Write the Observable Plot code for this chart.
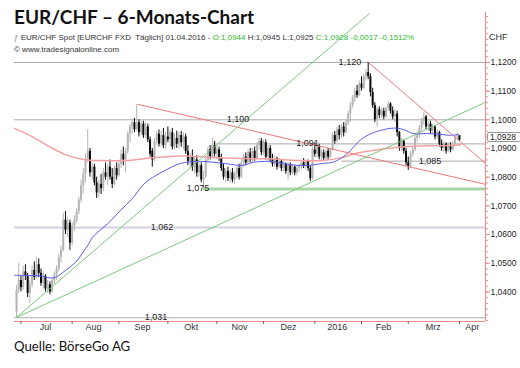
<!DOCTYPE html>
<html><head><meta charset="utf-8">
<script src="https://cdn.jsdelivr.net/npm/d3@7"></script>
<script src="https://cdn.jsdelivr.net/npm/@observablehq/plot@0.6"></script>
<style>
body{margin:0;background:#fff;}
#wrap{position:relative;width:520px;height:368px;overflow:hidden;font-family:"Liberation Sans",Arial,sans-serif;background:#fff;}
#wrap svg{position:absolute;left:0;top:0;}
.ov{position:absolute;white-space:nowrap;line-height:1;}
</style></head><body><div id="wrap"></div>
<script>
// ---- daily OHLC, EUR/CHF, 29.06.2015 – 01.04.2016 (trading-day index) ----
const open=[1.0330,1.0405,1.0440,1.0415,1.0470,1.0455,1.0395,1.0425,1.0475,1.0450,
1.0495,1.0465,1.0430,1.0455,1.0410,1.0425,1.0400,1.0440,1.0460,1.0480,
1.0520,1.0545,1.0650,1.0615,1.0640,1.0570,1.0630,1.0650,1.0680,1.0720,
1.0770,1.0810,1.0860,1.0890,1.0815,1.0835,1.0780,1.0745,1.0775,1.0760,
1.0815,1.0800,1.0835,1.0800,1.0775,1.0830,1.0805,1.0845,1.0880,1.0860,
1.0890,1.0950,1.0975,1.0990,1.0965,1.0990,1.0955,1.0985,1.0945,1.0975,
1.0930,1.0890,1.0860,1.0925,1.0950,1.0915,1.0945,1.0910,1.0940,1.0930,
1.0955,1.0905,1.0935,1.0915,1.0945,1.0920,1.0940,1.0890,1.0855,1.0870,
1.0835,1.0860,1.0815,1.0840,1.0790,1.0800,1.0860,1.0895,1.0870,1.0910,
1.0880,1.0895,1.0865,1.0830,1.0800,1.0820,1.0795,1.0815,1.0790,1.0810,
1.0830,1.0800,1.0850,1.0870,1.0850,1.0885,1.0860,1.0890,1.0865,1.0910,
1.0925,1.0885,1.0920,1.0870,1.0900,1.0860,1.0845,1.0865,1.0835,1.0855,
1.0830,1.0845,1.0820,1.0840,1.0815,1.0835,1.0815,1.0830,1.0840,1.0850,
1.0840,1.0855,1.0830,1.0795,1.0895,1.0880,1.0905,1.0870,1.0885,1.0865,
1.0890,1.0870,1.0895,1.0945,1.0925,1.0965,1.0945,1.0975,1.0955,1.0990,
1.1020,1.1050,1.1075,1.1100,1.1085,1.1125,1.1110,1.1150,1.1165,1.1150,
1.1095,1.1050,1.1000,1.1035,1.1015,1.1030,1.1010,1.1040,1.1055,1.1030,
1.1010,1.1020,1.0955,1.0900,1.0925,1.0890,1.0850,1.0835,1.0880,1.0895,
1.0935,1.0950,1.0970,1.0995,1.1010,1.0975,1.0985,1.0960,1.0975,1.0940,
1.0955,1.0915,1.0900,1.0915,1.0890,1.0910,1.0895,1.0915,1.0940,1.0944];
const high=[1.0423,1.0500,1.0455,1.0490,1.0495,1.0465,1.0440,1.0490,1.0505,1.0520,
1.0515,1.0480,1.0470,1.0460,1.0440,1.0435,1.0450,1.0470,1.0490,1.0530,
1.0560,1.0675,1.0680,1.0660,1.0650,1.0640,1.0665,1.0690,1.0730,1.0790,
1.0830,1.0880,1.0966,1.0900,1.0850,1.0845,1.0800,1.0790,1.0810,1.0830,
1.0850,1.0845,1.0860,1.0830,1.0840,1.0850,1.0860,1.0895,1.0905,1.0900,
1.0960,1.0985,1.1000,1.1005,1.1053,1.1000,1.0995,1.0995,1.0990,1.0985,
1.0940,1.0900,1.0935,1.0960,1.0965,1.0960,1.0970,1.0955,1.0975,1.0965,
1.0970,1.0950,1.0960,1.0955,1.0960,1.0955,1.0950,1.0910,1.0885,1.0895,
1.0870,1.0875,1.0850,1.0850,1.0820,1.0870,1.0905,1.0910,1.0935,1.0925,
1.0910,1.0905,1.0880,1.0845,1.0830,1.0835,1.0825,1.0830,1.0820,1.0840,
1.0845,1.0860,1.0880,1.0885,1.0895,1.0900,1.0900,1.0905,1.0920,1.0935,
1.0935,1.0930,1.0930,1.0910,1.0910,1.0880,1.0875,1.0870,1.0865,1.0860,
1.0855,1.0850,1.0850,1.0850,1.0845,1.0840,1.0840,1.0845,1.0860,1.0865,
1.0860,1.0860,1.0840,1.0905,1.0920,1.0915,1.0915,1.0895,1.0895,1.0895,
1.0900,1.0900,1.0955,1.0960,1.0975,1.0980,1.0985,1.0990,1.1000,1.1030,
1.1060,1.1085,1.1110,1.1120,1.1135,1.1150,1.1160,1.1175,1.1200,1.1160,
1.1110,1.1060,1.1045,1.1045,1.1040,1.1040,1.1045,1.1065,1.1060,1.1045,
1.1035,1.1030,1.0960,1.0935,1.0930,1.0900,1.0870,1.0890,1.0905,1.0945,
1.0960,1.0980,1.1005,1.1026,1.1015,1.0995,1.0995,1.0985,1.0980,1.0965,
1.0960,1.0930,1.0925,1.0920,1.0920,1.0920,1.0925,1.0945,1.0955,1.0945];
const low=[1.0311,1.0395,1.0400,1.0405,1.0440,1.0380,1.0360,1.0415,1.0440,1.0445,
1.0450,1.0420,1.0410,1.0400,1.0395,1.0390,1.0395,1.0425,1.0440,1.0470,
1.0500,1.0540,1.0600,1.0590,1.0545,1.0560,1.0610,1.0640,1.0670,1.0710,
1.0740,1.0780,1.0850,1.0800,1.0790,1.0770,1.0726,1.0730,1.0740,1.0750,
1.0790,1.0770,1.0790,1.0760,1.0770,1.0790,1.0800,1.0830,1.0840,1.0815,
1.0880,1.0920,1.0950,1.0955,1.0960,1.0940,1.0945,1.0935,1.0935,1.0920,
1.0870,1.0835,1.0855,1.0910,1.0905,1.0905,1.0900,1.0895,1.0920,1.0905,
1.0895,1.0895,1.0900,1.0900,1.0905,1.0895,1.0880,1.0840,1.0830,1.0820,
1.0810,1.0800,1.0800,1.0780,1.0764,1.0795,1.0850,1.0860,1.0865,1.0870,
1.0860,1.0855,1.0820,1.0790,1.0780,1.0785,1.0780,1.0780,1.0775,1.0795,
1.0790,1.0795,1.0835,1.0840,1.0845,1.0850,1.0850,1.0855,1.0860,1.0895,
1.0875,1.0875,1.0860,1.0855,1.0850,1.0835,1.0835,1.0825,1.0830,1.0820,
1.0820,1.0810,1.0790,1.0805,1.0810,1.0805,1.0805,1.0815,1.0825,1.0830,
1.0825,1.0820,1.0785,1.0790,1.0870,1.0865,1.0860,1.0855,1.0855,1.0860,
1.0860,1.0865,1.0890,1.0915,1.0920,1.0930,1.0935,1.0940,1.0950,1.0980,
1.0990,1.1040,1.1060,1.1075,1.1080,1.1100,1.1105,1.1135,1.1140,1.1080,
1.1040,1.0990,1.0975,1.1005,1.1005,1.1000,1.1005,1.1030,1.1020,1.1000,
1.0990,1.0940,1.0890,1.0890,1.0880,1.0840,1.0824,1.0830,1.0870,1.0890,
1.0920,1.0935,1.0960,1.0980,1.0965,1.0960,1.0950,1.0950,1.0930,1.0930,
1.0905,1.0890,1.0885,1.0880,1.0885,1.0885,1.0890,1.0905,1.0930,1.0925];
const close=[1.0405,1.0440,1.0415,1.0470,1.0455,1.0395,1.0425,1.0475,1.0450,1.0495,
1.0465,1.0430,1.0455,1.0410,1.0425,1.0400,1.0440,1.0460,1.0480,1.0520,
1.0545,1.0650,1.0615,1.0640,1.0570,1.0630,1.0650,1.0680,1.0720,1.0770,
1.0810,1.0860,1.0890,1.0815,1.0835,1.0780,1.0745,1.0775,1.0760,1.0815,
1.0800,1.0835,1.0800,1.0775,1.0830,1.0805,1.0845,1.0880,1.0860,1.0890,
1.0950,1.0975,1.0990,1.0965,1.0990,1.0955,1.0985,1.0945,1.0975,1.0930,
1.0880,1.0860,1.0925,1.0950,1.0915,1.0945,1.0910,1.0940,1.0930,1.0955,
1.0905,1.0935,1.0915,1.0945,1.0920,1.0940,1.0890,1.0855,1.0870,1.0835,
1.0860,1.0815,1.0840,1.0790,1.0800,1.0860,1.0895,1.0870,1.0910,1.0880,
1.0895,1.0865,1.0830,1.0800,1.0820,1.0795,1.0815,1.0790,1.0810,1.0830,
1.0800,1.0850,1.0870,1.0850,1.0885,1.0860,1.0890,1.0865,1.0910,1.0925,
1.0885,1.0920,1.0870,1.0900,1.0860,1.0845,1.0865,1.0835,1.0855,1.0830,
1.0845,1.0820,1.0840,1.0815,1.0835,1.0815,1.0830,1.0840,1.0850,1.0840,
1.0855,1.0830,1.0795,1.0895,1.0880,1.0905,1.0870,1.0885,1.0865,1.0890,
1.0870,1.0895,1.0945,1.0925,1.0965,1.0945,1.0975,1.0955,1.0990,1.1020,
1.1050,1.1075,1.1100,1.1085,1.1125,1.1110,1.1150,1.1165,1.1150,1.1095,
1.1050,1.1000,1.1035,1.1015,1.1030,1.1010,1.1040,1.1055,1.1030,1.1010,
1.1020,1.0955,1.0900,1.0925,1.0890,1.0850,1.0835,1.0880,1.0895,1.0935,
1.0950,1.0970,1.0995,1.1010,1.0975,1.0985,1.0960,1.0975,1.0940,1.0955,
1.0915,1.0900,1.0915,1.0890,1.0910,1.0895,1.0915,1.0940,1.0944,1.0928];

// moving averages: [trading-day index, value]
const ma50=[[-0.9,1.0458],[11.7,1.0455],[14.8,1.0449],[17.5,1.0451],[22,1.0475],[26.5,1.0503],[29.6,1.0535],[32.5,1.0568],[34.1,1.0590],[38.6,1.0622],[40.9,1.0637],[46.7,1.0684],[52.1,1.0726],[56.6,1.0771],[61.1,1.0799],[66.9,1.0824],[73.7,1.0848],[82.7,1.0855],[88.5,1.0852],[96.1,1.0845],[101.5,1.0841],[106.5,1.0852],[114.1,1.0855],[119.5,1.0848],[126.7,1.0841],[131.2,1.0841],[137.5,1.0848],[142,1.0852],[146.5,1.0869],[150,1.0893],[153.8,1.0925],[157,1.0943],[162.2,1.0960],[169.4,1.0971],[173.9,1.0966],[178.3,1.0952],[184.6,1.0952],[190.5,1.0949],[195,1.0946],[198.6,1.0949]];
const ma200=[[-0.9,1.0970],[7.6,1.0939],[15.3,1.0904],[22.9,1.0876],[30.1,1.0862],[37.7,1.0858],[49,1.0858],[60.2,1.0867],[73.7,1.0874],[88.5,1.0869],[103.8,1.0865],[114.1,1.0864],[126.7,1.0858],[137.5,1.0858],[146.5,1.0869],[152.3,1.0883],[163.5,1.0897],[172.5,1.0905],[181.5,1.0909],[190.5,1.0910],[199.5,1.0912]];

// trend lines (start index, start value, end index, end value)
const redLines=[[54.4,1.1054,210.7,1.0775],[158.1,1.1200,210.7,1.0848]];
const greenLines=[[0,1.0311,158.6,1.1371],[0,1.0311,210.7,1.1061]];

// horizontal levels: value, first index, label text, label index
const levelValue=[1.1200,1.1000,1.0916,1.0856,1.0625,1.0310];
const levelFrom=[-0.9,-0.9,88.5,146,-0.9,-0.9];
const supportValue=1.0759, supportFrom=84;
const labelText=["1,120","1,100","1,091","1,085","1,075","1,062","1,031"];
const labelValue=[1.1200,1.1000,1.0916,1.0856,1.0759,1.0625,1.0310];
const labelIdx=[150,99.7,131,186,81.8,65.6,62.9];
const labelDy=[-7,-6.5,-7,5,8.5,-4.5,-5];

const yTicks=[1.04,1.05,1.06,1.07,1.08,1.09,1.10,1.11,1.12];
const monthStart=[2,25,46,68,90,111,134,155,176,199];
const monthLabel=["Jul","Aug","Sep","Okt","Nov","Dez","2016","Feb","Mrz","Apr"];
const monthLabelIdx=[13,34.6,56.6,78.5,100.2,122.2,144.1,164.9,187.2,204.7];
const lastClose=1.0928;

const xDomain=[-0.9,210.7], yDomain=[1.0297,1.1374];
const axisRed="#f08a8a", upCol="#b4b4b4", downCol="#0a0a0a";
const fmt4=d=>d.toFixed(4).replace(".",",");

const data=close.map((c,i)=>({i,o:open[i],h:high[i],l:low[i],c,col:c>=open[i]?upCol:downCol}));
const levels=levelValue.map((v,k)=>({v,from:levelFrom[k],col:v===1.0625?"#d6d0de":"#a9a9a9",w:v===1.0625?2:1}));
const labels=labelText.map((t,k)=>({t,v:labelValue[k],i:labelIdx[k],dy:labelDy[k]}));
const toLink=a=>a.map(([x1,y1,x2,y2])=>({x1,y1,x2,y2}));
const months=monthLabel.map((t,k)=>({t,i:monthLabelIdx[k]}));
const minorTicks=d3.range(1.030,1.1371,0.002);

const chart=Plot.plot({
  width:520,height:368,marginTop:12,marginBottom:47,marginLeft:14,marginRight:35,
  x:{domain:xDomain,axis:null},
  y:{domain:yDomain,label:null},
  color:{type:"identity"},
  style:{fontFamily:"'Liberation Sans',Arial,sans-serif",background:"transparent",overflow:"visible"},
  marks:[
    Plot.ruleY(levels,{y:"v",x1:"from",x2:()=>xDomain[1],stroke:"col",strokeWidth:"w"}),
    Plot.ruleY([supportValue],{x1:supportFrom,x2:xDomain[1],stroke:"#a9d6a9",strokeWidth:3}),
    Plot.ruleX(data,{x:"i",y1:"l",y2:"h",stroke:"col",strokeWidth:1}),
    Plot.ruleX(data,{x:"i",y1:"o",y2:"c",stroke:"col",strokeWidth:2}),
    Plot.line(ma200,{x:d=>d[0],y:d=>d[1],stroke:"#f5a0a0",strokeWidth:1.5,curve:"catmull-rom"}),
    Plot.line(ma50,{x:d=>d[0],y:d=>d[1],stroke:"#5a5af0",strokeWidth:1,curve:"catmull-rom"}),
    Plot.link(toLink(redLines),{x1:"x1",y1:"y1",x2:"x2",y2:"y2",stroke:"#f07878",strokeWidth:1}),
    Plot.link(toLink(greenLines),{x1:"x1",y1:"y1",x2:"x2",y2:"y2",stroke:"#7cc87c",strokeWidth:1}),
    Plot.text(labels,{x:"i",y:"v",text:"t",dy:"dy",fontSize:9,fill:"#222"}),
    Plot.ruleX([xDomain[1]],{stroke:axisRed}),
    Plot.ruleY([yDomain[0]],{stroke:axisRed}),
    Plot.axisY(minorTicks,{anchor:"right",tickSize:2,tickFormat:()=>"",stroke:axisRed,label:null}),
    Plot.axisY(yTicks,{anchor:"right",tickSize:4,tickPadding:1,tickFormat:fmt4,stroke:axisRed,fill:"#222",fontSize:8.5,label:null}),
    Plot.axisX(monthStart,{anchor:"bottom",tickSize:3,tickFormat:()=>"",stroke:"#666",label:null}),
    Plot.text(months,{x:"i",text:"t",frameAnchor:"bottom",dy:8,fontSize:9,fill:"#333"})
  ]
});
const wrap=document.getElementById("wrap");
wrap.appendChild(chart);

function ov(html,css){const d=document.createElement("div");d.className="ov";d.innerHTML=html;d.style.cssText+=css;wrap.appendChild(d);return d;}
ov("EUR/CHF – 6-Monats-Chart","left:14px;top:7px;font-family:Lato,'Open Sans',sans-serif;font-weight:700;font-size:19px;color:#111;");
ov('<span style="color:#888">&#x0192;</span> EUR/CHF Spot [EURCHF FXD&nbsp; Täglich] 01.04.2016 - <span style="color:#2eb82e">O:1,0944</span> H:1,0945 L:1,0925 <span style="color:#2eb82e">C:1,0928 -0,0017 -0,1512%</span>',"left:14px;top:34px;font-size:8px;color:#333;");
ov("© www.tradesignalonline.com","left:14px;top:45.5px;font-size:8px;color:#333;");
ov("CHF","left:489px;top:33px;font-size:9px;color:#333;");
ov("Quelle: BörseGo AG","left:14px;top:340px;font-family:Lato,'Open Sans',sans-serif;font-size:13.2px;color:#111;");
const yp=chart.scale("y").apply(lastClose);
ov(fmt4(lastClose),`left:487px;top:${yp-7.5}px;height:8px;line-height:8px;font-size:8.5px;color:#222;background:#fff;border:1px solid #999;border-radius:2px;padding:0 8px 0 2px;`);
</script></body></html>
